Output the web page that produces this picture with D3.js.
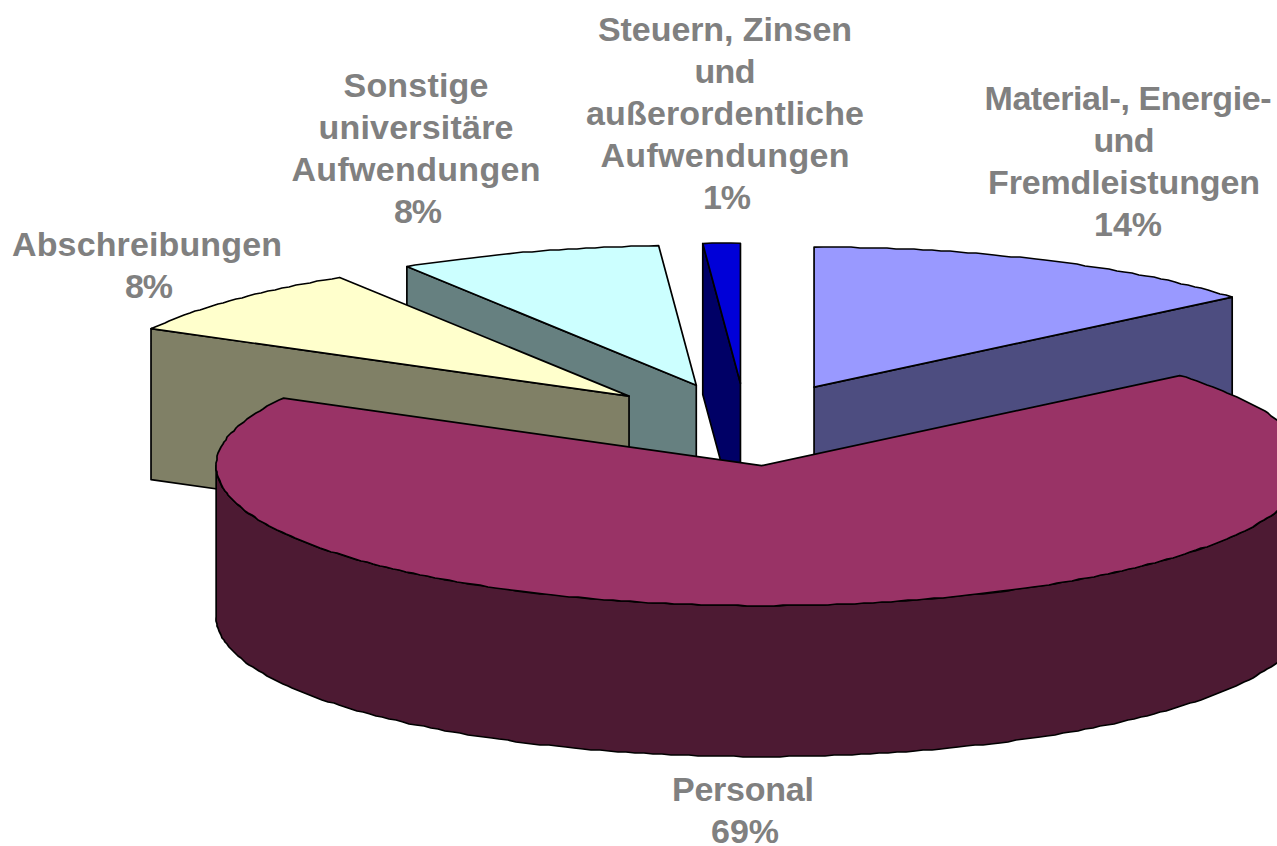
<!DOCTYPE html>
<html><head><meta charset="utf-8">
<script src="https://cdn.jsdelivr.net/npm/d3@7"></script>
<style>html,body{margin:0;padding:0;background:#fff;overflow:hidden}svg{display:block}</style>
</head><body><div id="c"></div>
<script>
const categories = ["Material-, Energie- und Fremdleistungen","Personal","Abschreibungen","Sonstige universitäre Aufwendungen","Steuern, Zinsen und außerordentliche Aufwendungen"];
const shares = [13.9,69.1,8.1,7.8,1.1];
const topColors = ["#9999ff","#993366","#ffffcc","#ccffff","#0000d8"];
const sideColors = ["#4d4d80","#4d1a33","#808066","#668080","#000066"];
const labelLines = [
  ["Material-, Energie-","und","Fremdleistungen","14%"],
  ["Personal","69%"],
  ["Abschreibungen","8%"],
  ["Sonstige","universitäre","Aufwendungen","8%"],
  ["Steuern, Zinsen","und","außerordentliche","Aufwendungen","1%"]
];
const labelAnchors = [[1128,110],[743,801],[147,256],[416,97],[725,41]];
const labelWidths = [[287,61,272,68],[142,68],[270,48],[145,195,249,48],[254,61,278,249,48]];
const lineShifts = [[0,-4,-4,0],[0,2],[0,2],[0,0,0,2],[0,0,0,0,2]];
const drawOrder = [0,3,2,4,1];

const W=1277,H=846,cx=746,cy=424.5,rx=545.5,ry=140,depth=151,explode=0.295;
const sx=d3.scaleLinear().domain([-1,1]).range([cx-rx,cx+rx]);
const sy=d3.scaleLinear().domain([-1,1]).range([cy-ry,cy+ry]);
const svg=d3.select("#c").append("svg").attr("width",W).attr("height",H).attr("viewBox",`0 0 ${W} ${H}`);
svg.append("rect").attr("width",W).attr("height",H).attr("fill","#fff");
const arcs=d3.pie().sort(null).value(d=>d)(shares);
const line=d3.line();
function pt(a,d,r,dz){
  return [sx(explode*Math.sin(d.mid)+r*Math.sin(a)), sy(-explode*Math.cos(d.mid)-r*Math.cos(a))+(dz||0)];
}
function arcPts(a0,a1,d,dz){
  const n=Math.max(4,Math.round(Math.abs(a1-a0)*60));
  return d3.range(0,n+1).map(i=>pt(a0+(a1-a0)*i/n,d,1,dz)).map((p,i)=>(i===0||i===n)?p:[Math.round(p[0]),Math.round(p[1])]);
}
const g=svg.append("g");
const style=s=>s.attr("stroke","#000").attr("stroke-width",1.7).attr("stroke-linejoin","round");
drawOrder.forEach(i=>{
  const d=arcs[i]; d.mid=(d.startAngle+d.endAngle)/2;
  const apex=pt(0,d,0), apexB=pt(0,d,0,depth);
  const s=pt(d.startAngle,d,1), e=pt(d.endAngle,d,1);
  const sl=g.append("g").attr("class","slice");
  if(i===0){
    style(sl.append("path").attr("d",line([apex,e,[e[0],e[1]+depth],apexB])+"Z").attr("fill",sideColors[i]));
  } else if(i!==1){
    style(sl.append("path").attr("d",line([s,apex,apexB,[s[0],s[1]+depth]])+"Z").attr("fill",sideColors[i]));
  } else {
    const t=arcPts(Math.PI/2,3*Math.PI/2,d,0), b=arcPts(3*Math.PI/2,Math.PI/2,d,depth);
    style(sl.append("path").attr("d",line(t.concat(b))+"Z").attr("fill",sideColors[i]));
  }
  style(sl.append("path").attr("d",line([apex].concat(arcPts(d.startAngle,d.endAngle,d,0)))+"Z").attr("fill",topColors[i]));
});
const lh=42;
const tg=svg.append("g").attr("font-family","'Liberation Sans',Arial,sans-serif").attr("font-weight","bold").attr("font-size",34).attr("fill","#808080").attr("text-anchor","middle");
labelLines.forEach((ls,i)=>{
  const t=tg.append("text").attr("x",labelAnchors[i][0]).attr("y",labelAnchors[i][1]);
  ls.forEach((l,j)=>t.append("tspan").attr("x",labelAnchors[i][0]+lineShifts[i][j]).attr("y",labelAnchors[i][1]+j*lh).attr("textLength",labelWidths[i][j]).attr("lengthAdjust","spacing").text(l));
});
</script></body></html>
